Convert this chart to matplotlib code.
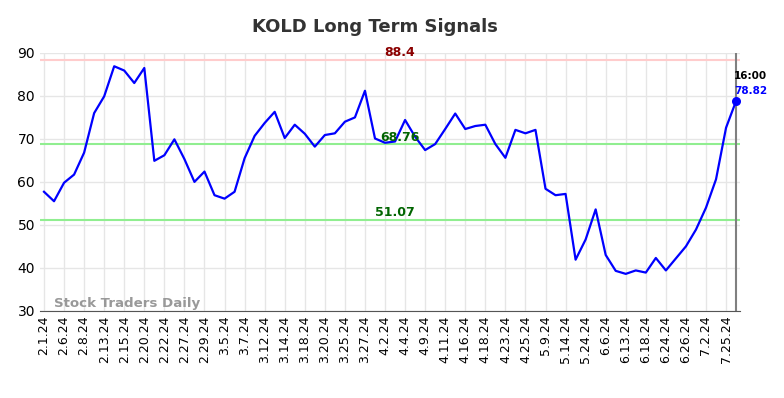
import numpy as np
import matplotlib.pyplot as plt

# valeurs (un point par séance, une étiquette sur deux)
tick_labels = ["2.1.24", "2.6.24", "2.8.24", "2.13.24", "2.15.24", "2.20.24", "2.22.24",
               "2.27.24", "2.29.24", "3.5.24", "3.7.24", "3.12.24", "3.14.24", "3.18.24",
               "3.20.24", "3.25.24", "3.27.24", "4.2.24", "4.4.24", "4.9.24", "4.11.24",
               "4.16.24", "4.18.24", "4.23.24", "4.25.24", "5.9.24", "5.14.24", "5.24.24",
               "6.6.24", "6.13.24", "6.18.24", "6.24.24", "6.26.24", "7.2.24", "7.25.24"]

values = [57.7, 55.5, 59.8, 61.7, 66.8, 76.0, 79.9, 86.9, 85.9, 83.0,
          86.5, 64.9, 66.2, 69.9, 65.3, 60.0, 62.4, 56.9, 56.1, 57.7,
          65.5, 70.7, 73.7, 76.3, 70.2, 73.3, 71.2, 68.2, 70.9, 71.3,
          74.0, 75.0, 81.2, 70.1, 69.1, 69.4, 74.4, 70.5, 67.4, 68.8,
          72.3, 75.9, 72.3, 73.0, 73.3, 68.8, 65.6, 72.1, 71.3, 72.1,
          58.4, 56.9, 57.2, 41.9, 46.6, 53.6, 43.0, 39.3, 38.6, 39.4,
          38.9, 42.3, 39.4, 42.2, 45.0, 48.9, 54.0, 60.6, 72.6, 78.82]

upper = 88.4
mid = 68.76
lower = 51.07
last_time = "16:00"

x = np.arange(len(values))

fig = plt.figure(figsize=(7.84, 3.98), dpi=100)
ax = fig.add_axes([0.051, 0.219, 0.893, 0.648])

ax.plot(x, values, color='blue', lw=1.6, zorder=3)
ax.scatter([x[-1]], [values[-1]], color='blue', s=30, zorder=4)

ax.axhline(upper, color='#ffcccc', lw=1.5, zorder=2)
ax.axhline(mid, color='#90ee90', lw=1.5, zorder=2)
ax.axhline(lower, color='#90ee90', lw=1.5, zorder=2)
ax.axvline(x[-1], color='gray', lw=1.5, zorder=2)

ax.text(35.5, upper + 0.1, f"{upper}", color='darkred', fontsize=9, fontweight='bold',
        ha='center', va='bottom')
ax.text(35.5, mid + 0.1, f"{mid}", color='darkgreen', fontsize=9, fontweight='bold',
        ha='center', va='bottom')
ax.text(35.0, lower + 0.2, f"{lower}", color='darkgreen', fontsize=9, fontweight='bold',
        ha='center', va='bottom')

ax.text(x[-1] - 0.2, values[-1] + 5.7, last_time, color='black', fontsize=7.5,
        fontweight='bold', ha='left', va='center')
ax.text(x[-1] - 0.2, values[-1] + 2.4, f"{values[-1]}", color='blue', fontsize=7.5,
        fontweight='bold', ha='left', va='center')

ax.text(1.0, 31.8, "Stock Traders Daily", color='#999999', fontsize=9.6,
        fontweight='bold', ha='left', va='center')

ax.set_xlim(-0.4, len(values) - 1 + 0.4)
ax.set_ylim(30, 90)
ax.set_yticks(range(30, 91, 10))
ax.set_xticks(x[::2])
ax.set_xticklabels(tick_labels, rotation=90, fontsize=9)
ax.tick_params(axis='y', labelsize=10, length=0)
ax.tick_params(axis='x', length=0)
ax.grid(color='#e6e6e6', lw=1)
ax.set_axisbelow(True)

for side in ['left', 'top', 'right']:
    ax.spines[side].set_visible(False)
ax.spines['bottom'].set_color('#555555')

fig.text(375 / 784, 1 - 27 / 398, "KOLD Long Term Signals", fontsize=13,
         fontweight='bold', color='#333333', ha='center', va='center')

fig.savefig("out.png", dpi=100)
